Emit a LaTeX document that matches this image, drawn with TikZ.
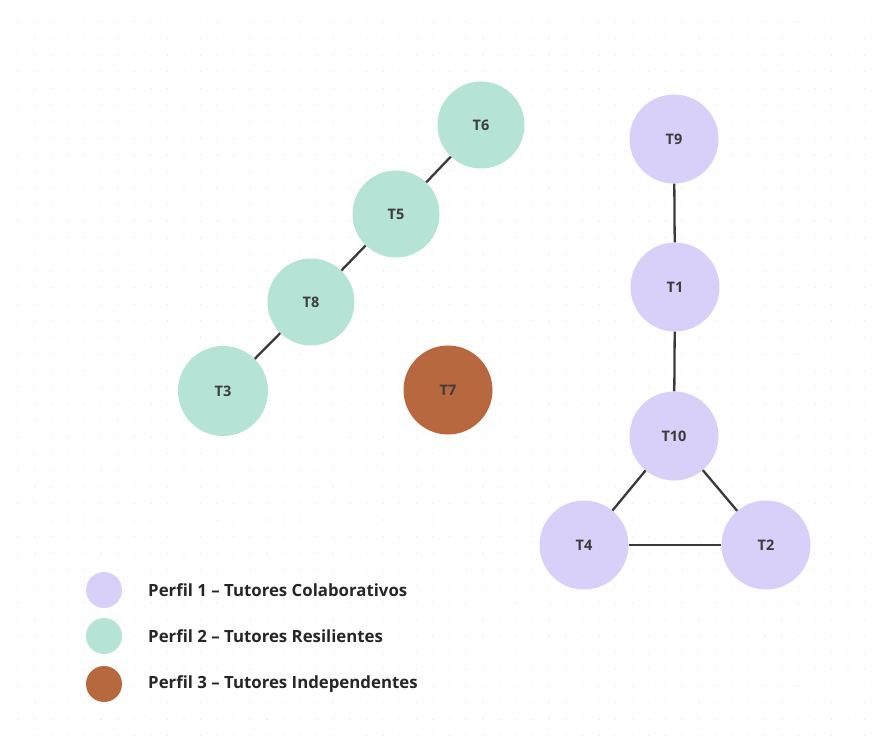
\documentclass[tikz,border=0pt]{standalone}
\usepackage{fontspec}
\setmainfont{Open Sans}
\definecolor{lav}{HTML}{D8D0F8}
\definecolor{teal}{HTML}{B5E4D7}
\definecolor{brn}{HTML}{B8683F}
\definecolor{edgec}{HTML}{3A3A3A}
\definecolor{txt}{HTML}{3C3C3C}
\tikzset{
  tnode/.style={circle, minimum size=#1, inner sep=0pt, font=\bfseries\fontsize{14.5}{16}\selectfont, text=txt},
  p1/.style={tnode=89pt, fill=lav},
  p2/.style={tnode=87pt, fill=teal},
  p3/.style={tnode=89pt, fill=brn},
  link/.style={draw=edgec, line width=2.3pt},
  legdot/.style={circle, minimum size=36pt, inner sep=0pt},
  legtext/.style={anchor=west, inner sep=0pt, font=\bfseries\fontsize{16.8}{19}\selectfont, text=black!85}
}
\begin{document}
\begin{tikzpicture}[x=1pt,y=-1pt]
\useasboundingbox (0,0) rectangle (883,746);
\fill[white] (0,0) rectangle (883,746);
% dot grid
\foreach \i in {0,...,51} {
  \foreach \j in {0,...,43} {
    \fill[black!7] (18+16.6*\i, 22+16.6*\j) circle (0.8pt);
  }
}
% Perfil 2 chain
\node[p2] (T6) at (481,125) {T6};
\node[p2] (T5) at (396,214) {T5};
\node[p2] (T8) at (311,302) {T8};
\node[p2, minimum size=90pt] (T3) at (223,391) {T3};
\node[p3] (T7) at (448,390) {T7};
% Perfil 1
\node[p1] (T9) at (674,139) {T9};
\node[p1] (T1) at (675,287) {T1};
\node[p1] (T10) at (674,436) {T10};
\node[p1] (T4) at (584,545) {T4};
\node[p1] (T2) at (766,545) {T2};
% edges
\draw[link] (T6) -- (T5);
\draw[link] (T5) -- (T8);
\draw[link] (T8) -- (T3);
\draw[link] (T9) -- (T1);
\draw[link] (T1) -- (T10);
\draw[link] (T10) -- (T4);
\draw[link] (T10) -- (T2);
\draw[link] (T4) -- (T2);
% legend
\node[legdot, fill=lav] (L1) at (104,590) {};
\node[legdot, fill=teal] (L2) at (104,636) {};
\node[legdot, fill=brn] (L3) at (104,684) {};
\node[legtext] (L1t) at (148,590) {Perfil 1 – Tutores Colaborativos};
\node[legtext] (L2t) at (148,636) {Perfil 2 – Tutores Resilientes};
\node[legtext] (L3t) at (148,684) {Perfil 3 – Tutores Independentes};
\end{tikzpicture}
\end{document}
